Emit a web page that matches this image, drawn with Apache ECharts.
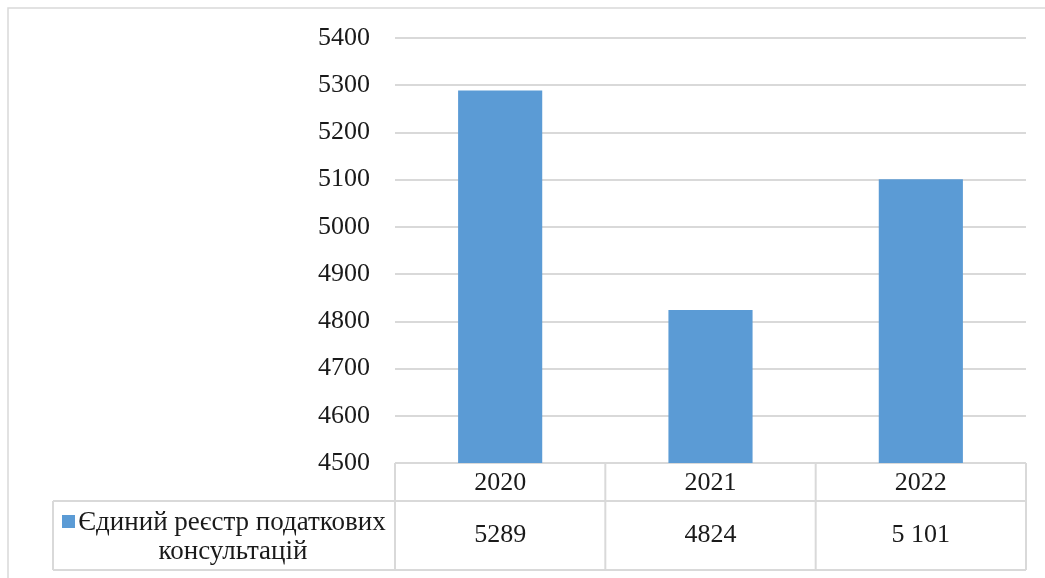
<!DOCTYPE html>
<html>
<head>
<meta charset="utf-8">
<script src="https://cdn.jsdelivr.net/npm/echarts@6/dist/echarts.min.js"></script>
<style>
html,body{margin:0;padding:0;background:#fff;}
#main{width:1045px;height:578px;}
</style>
</head>
<body>
<div id="main"></div>
<script>
var categories = ['2020', '2021', '2022'];
var seriesName = 'Єдиний реєстр податкових консультацій';
var legendLines = ['Єдиний реєстр податкових', 'консультацій'];
var values = [5289, 4824, 5101];
var tableLabels = ['5289', '4824', '5 101'];
var yTicks = [4500, 4600, 4700, 4800, 4900, 5000, 5100, 5200, 5300, 5400];

var FONT = '"Liberation Serif", "Times New Roman", serif';
var BAR = '#5B9BD5';
var LINE = '#D9D9D9';
var TXT = '#1a1a1a';

var chart = echarts.init(document.getElementById('main'), null, {renderer: 'canvas'});
var option = {
  animation: false,
  backgroundColor: '#fff',
  grid: {left: 395, right: 19, top: 38, bottom: 115},
  xAxis: {
    type: 'category',
    data: categories,
    axisLine: {show: false},
    axisTick: {show: false},
    axisLabel: {fontFamily: FONT, fontSize: 26, color: TXT, margin: 7}
  },
  yAxis: {
    type: 'value',
    min: yTicks[0],
    max: yTicks[yTicks.length - 1],
    interval: 100,
    axisLine: {show: false},
    axisTick: {show: false},
    axisLabel: {fontFamily: FONT, fontSize: 26, color: TXT, margin: 25, formatter: function (v) { return String(v); }},
    splitLine: {lineStyle: {color: LINE, width: 2}}
  },
  series: [{
    name: seriesName,
    type: 'bar',
    data: values,
    barWidth: '40%',
    itemStyle: {color: BAR}
  }]
};
chart.setOption(option);

// Build data table under the axis from the axis scales
var p0 = chart.convertToPixel({xAxisIndex: 0}, categories[0]);
var p1 = chart.convertToPixel({xAxisIndex: 0}, categories[1]);
var band = p1 - p0;
var left = p0 - band / 2;
var right = left + band * categories.length;
var yTop = chart.convertToPixel({yAxisIndex: 0}, yTicks[0]);
var yMid = yTop + 38;
var yBot = yTop + 107;
var legLeft = 53;
var g = [];
var ls = {stroke: LINE, lineWidth: 2};
// outer border
g.push({type: 'rect', shape: {x: 8, y: 8, width: 1200, height: 1000}, style: {fill: null, stroke: '#D9D9D9', lineWidth: 1.5}, silent: true});
// table lines
g.push({type: 'line', shape: {x1: left, y1: yTop, x2: right, y2: yTop}, style: ls});
g.push({type: 'line', shape: {x1: legLeft, y1: yMid, x2: right, y2: yMid}, style: ls});
g.push({type: 'line', shape: {x1: legLeft, y1: yBot, x2: right, y2: yBot}, style: ls});
g.push({type: 'line', shape: {x1: legLeft, y1: yMid, x2: legLeft, y2: yBot}, style: ls});
for (var i = 0; i <= categories.length; i++) {
  var x = left + band * i;
  g.push({type: 'line', shape: {x1: x, y1: yTop, x2: x, y2: yBot}, style: ls});
}
for (var j = 0; j < categories.length; j++) {
  var cx = chart.convertToPixel({xAxisIndex: 0}, categories[j]);
  g.push({type: 'text', x: cx, y: (yMid + yBot) / 2, style: {text: tableLabels[j], font: '26px ' + FONT, fill: TXT, textAlign: 'center', textVerticalAlign: 'middle'}});
}
// legend key cell
var legCx = 232;
g.push({type: 'rect', shape: {x: 62, y: yMid + 14, width: 13, height: 13}, style: {fill: BAR}});
g.push({type: 'text', x: legCx, y: yMid + 22, style: {text: legendLines[0], font: '27px ' + FONT, fill: TXT, textAlign: 'center', textVerticalAlign: 'middle'}});
g.push({type: 'text', x: legCx + 1, y: yMid + 51, style: {text: legendLines[1], font: '27px ' + FONT, fill: TXT, textAlign: 'center', textVerticalAlign: 'middle'}});
chart.setOption({graphic: g});
</script>
</body>
</html>
